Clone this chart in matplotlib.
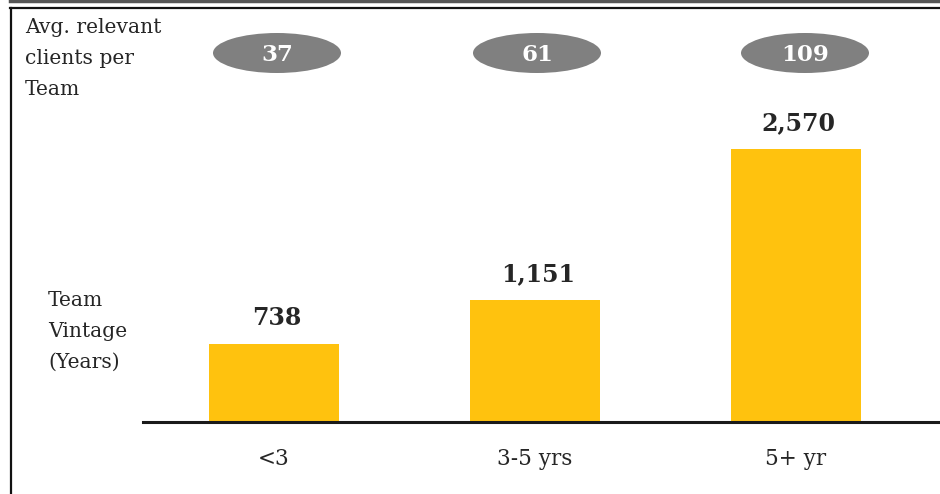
import matplotlib.pyplot as plt
from matplotlib.patches import Ellipse
from matplotlib.lines import Line2D

# Daten
categories = ['<3', '3-5 yrs', '5+ yr']
team_clients = [738, 1151, 2570]
avg_clients_per_team = [37, 61, 109]

bar_color = '#FFC20E'
pill_color = '#808080'
text_color = '#262626'
serif = 'DejaVu Serif'

W, H = 940, 494
fig = plt.figure(figsize=(W / 100, H / 100), dpi=100)

# Achse fuer die Balken: Grundlinie bei y=422 px, Balkenmitten 274/535/796 px
step = 261.0
x0 = 274.0
ax_left, ax_right = 143.0, 940.0
base_y, top_y = 422.0, 100.0
ax = fig.add_axes([ax_left / W, (H - base_y) / H, (ax_right - ax_left) / W, (base_y - top_y) / H])
xs = list(range(len(categories)))
ax.bar(xs, team_clients, width=0.5, color=bar_color)
ax.set_xlim((ax_left - x0) / step, (ax_right - x0) / step)
px_per_unit = 273.0 / 2570.0
ax.set_ylim(0, (base_y - top_y) / px_per_unit)

for s in ['top', 'right', 'left']:
    ax.spines[s].set_visible(False)
ax.spines['bottom'].set_linewidth(2.2)
ax.spines['bottom'].set_color('#1a1a1a')
ax.set_yticks([])
ax.set_xticks(xs)
ax.set_xticklabels(categories, fontsize=15.5, family=serif, color=text_color)
ax.tick_params(axis='x', length=0, pad=18.5)
ax.patch.set_alpha(0)

for x, v in zip(xs, team_clients):
    ax.annotate(f'{v:,}', (x, v), xytext=(2, 13.5), textcoords='offset points',
                ha='center', va='baseline', fontsize=17, fontweight='bold',
                family=serif, color=text_color)

# Overlay in Pixelkoordinaten (x wie Balkenachse)
ov = fig.add_axes([0, 0, 1, 1])
ov.set_xlim(-x0 / step, (W - x0) / step)
ov.set_ylim(H, 0)
ov.axis('off')
ov.patch.set_alpha(0)

pill_dx = [3, 2, 9]
for x, n, dx in zip(xs, avg_clients_per_team, pill_dx):
    cx = x + dx / step
    ov.add_patch(Ellipse((cx, 53), width=128 / step, height=40, color=pill_color, lw=0))
    ov.text(cx, 61, str(n), ha='center', va='baseline', fontsize=16.5,
            fontweight='bold', family=serif, color='white')

# mehrzeilig: y = Grundlinie der letzten Zeile
ov.text(-x0 / step + 25 / step, 95, 'Avg. relevant\nclients per\nTeam', ha='left',
        va='baseline', fontsize=14.6, family=serif, color=text_color, linespacing=1.8)
ov.text(-x0 / step + 48 / step, 368, 'Team\nVintage\n(Years)', ha='left',
        va='baseline', fontsize=14.6, family=serif, color=text_color, linespacing=1.8)

# Rahmen
fig.add_artist(Line2D([10 / W, 1], [1 - 1.5 / H, 1 - 1.5 / H], color='#555555', lw=2.5))
fig.add_artist(Line2D([10 / W, 1], [1 - 8 / H, 1 - 8 / H], color='#111111', lw=1.6))
fig.add_artist(Line2D([10.5 / W, 10.5 / W], [0, 1 - 8 / H], color='#111111', lw=1.6))

fig.savefig('out.png', dpi=100)
